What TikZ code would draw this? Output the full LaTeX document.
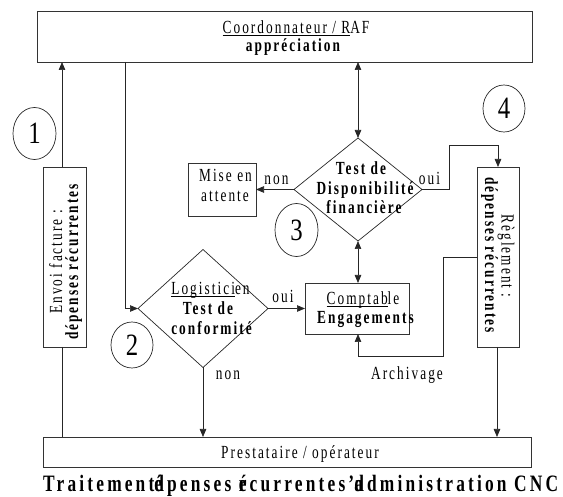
\documentclass[tikz,border=0pt]{standalone}
\usepackage{fontspec}
\setmainfont{Liberation Serif}[FakeStretch=0.8]
\newfontfamily\dfont{Liberation Serif}[FakeStretch=0.72, LetterSpace=11]
\newfontfamily\capfont{Liberation Serif}[FakeStretch=0.74, LetterSpace=13.5]
\usetikzlibrary{arrows.meta, shapes.geometric}
% one glyph printed over another
\newcommand\ovl[2]{\rlap{#1}#2}
% underline at a fixed distance below the baseline
\newcommand\ul[1]{\setbox0=\hbox{#1}\rlap{\rule[-1.8pt]{\wd0}{0.8pt}}\box0}

\begin{document}
\begin{tikzpicture}[x=1pt, y=-1pt,
  box/.style={draw=black!80, line width=0.8pt, inner sep=0pt, outer sep=0pt},
  dia/.style={draw=black!85, diamond, line width=0.7pt, inner sep=0pt, outer sep=0pt},
  num/.style={draw=black!85, ellipse, line width=0.7pt, inner sep=0pt, outer sep=0pt,
    font=\fontsize{31}{33}\selectfont},
  ln/.style={anchor=base, inner sep=0pt, font=\dfont\fontsize{18.5}{20}\selectfont},
  bln/.style={ln, font=\dfont\bfseries\fontsize{18.5}{20}\selectfont},
  link/.style={line width=0.7pt, draw=black!85},
  arr/.style={link, -{Triangle[length=8pt, width=6.5pt]}},
  darr/.style={link, {Triangle[length=8pt, width=6.5pt]}-{Triangle[length=8pt, width=6.5pt]}},
]
\useasboundingbox (0,0) rectangle (563,497);

% ---------- boxes ----------
\node[box, minimum width=495, minimum height=51] (coord) at (284.5,36.5) {};
\node[box, minimum width=488, minimum height=30] (presta) at (287,452) {};
\node[box, minimum width=43, minimum height=180] (envoi) at (64.5,257) {};
\node[box, minimum width=42, minimum height=180] (regl) at (498,257) {};
\node[box, minimum width=68, minimum height=53] (mise) at (222,189.5) {};
\node[box, minimum width=104, minimum height=51] (compta) at (357,308.5) {};

% ---------- decisions ----------
\node[dia, minimum width=130, minimum height=118] (logi) at (203,308.5) {};
\node[dia, minimum width=128, minimum height=103] (dispo) at (358,189.5) {};

% ---------- step numbers ----------
\node[num, minimum width=43, minimum height=52] (c1) at (34.5,133.5) {1};
\node[num, minimum width=42, minimum height=46] (c2) at (132,345) {2};
\node[num, minimum width=43, minimum height=53] (c3) at (296.5,230) {3};
\node[num, minimum width=42, minimum height=47] (c4) at (504,108.5) {4};

% ---------- texts ----------
\node[ln] (coordA) at (296,34) {\ul{Coordonnateur / R}AF};
\node[bln] (coordB) at (293,52) {appréciation};
\node[ln] (prestaA) at (300,458) {Prestataire / opérateur};
\node[ln] (miseA) at (225.5,182) {Mise en};
\node[ln] (miseB) at (225,202) {attente};
\node[bln] (dispoA) at (361,175) {Test de};
\node[bln] (dispoB) at (365,195) {Disponibilité};
\node[bln] (dispoC) at (364,214) {financière};
\node[ln] (logiA) at (210.5,295) {\ul{Logistici}en};
\node[bln] (logiB) at (208,315) {Test de};
\node[bln] (logiC) at (211.5,335) {conformité};
\node[ln] (comptaA) at (363,305) {\ul{Comptab}le};
\node[bln] (comptaB) at (365.5,324) {Engagements};
\node[ln, rotate=90] (envoiA) at (62,262) {Envoi facture :};
\node[bln, rotate=90] (envoiB) at (78,262) {dépenses récurrentes};
\node[ln, rotate=-90] (reglA) at (501.5,256) {Règlement :};
\node[bln, rotate=-90] (reglB) at (485,255) {dépenses récurrentes};

% ---------- branch labels ----------
\node[ln] (oui1) at (283,303) {oui};
\node[ln] (non1) at (228,380) {non};
\node[ln] (non2) at (276.5,185) {non};
\node[ln] (oui2) at (429.5,185) {oui};
\node[ln] (arch) at (407,380) {Archivage};

% ---------- bend points ----------
\coordinate (b1) at (125,308.5);
\coordinate (r1) at (449,145);
\coordinate (a1) at (443,356);

% ---------- connectors ----------
\draw[arr] ([xshift=-2.5pt]envoi.north) -- ([xshift=-2.5pt]envoi.north |- coord.south);
\draw[link] ([xshift=-2.5pt]envoi.south) -- ([xshift=-2.5pt]envoi.south |- presta.north);
\draw[arr] (coord.south -| b1) -- (b1) -- (logi.west);
\draw[darr] (coord.south -| dispo.north) -- (dispo.north);
\draw[darr] (dispo.south) -- (compta.north -| dispo.south);
\draw[arr] (logi.east) -- (compta.west);
\draw[arr] (logi.south) -- (logi.south |- presta.north);
\draw[arr] (dispo.west) -- (mise.east |- dispo.west);
\draw[arr] (dispo.east) -- (dispo.east -| r1) -- (r1) -- (r1 -| regl.north) -- (regl.north);
\draw[arr] ([xshift=-1pt]regl.south) -- ([xshift=-1pt]regl.south |- presta.north);
\draw[arr] (regl.west) -- (regl.west -| a1) -- (a1) -- (a1 -| dispo.south) -- (compta.south -| dispo.south);

% ---------- caption ----------
\node[anchor=base west, inner sep=0pt, font=\capfont\bfseries\fontsize{23.5}{25}\selectfont] (cap) at (43,491)
  {Traitem\kern3pt ent\ovl{é}{d}penses \ovl{r}{é}currentes’\ovl{a}{d}dministration CNC};
\end{tikzpicture}
\end{document}
